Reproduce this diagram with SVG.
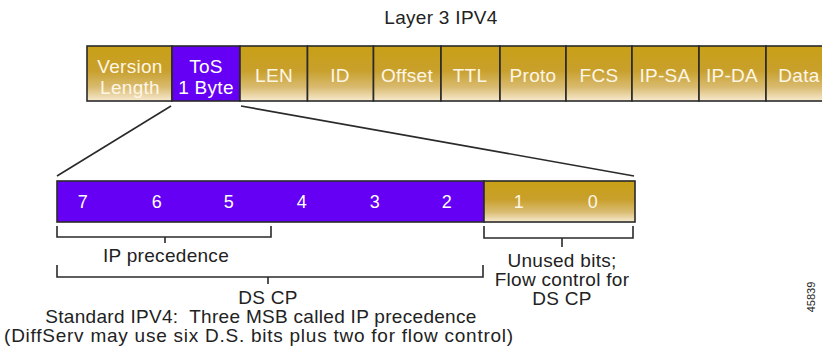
<svg xmlns="http://www.w3.org/2000/svg" width="822" height="352" viewBox="0 0 822 352">
<defs>
<linearGradient id="gold" x1="0" y1="0" x2="0" y2="1">
<stop offset="0" stop-color="#c9a015"/>
<stop offset="0.45" stop-color="#c8a02c"/>
<stop offset="0.75" stop-color="#d9bb70"/>
<stop offset="1" stop-color="#f7eacf"/>
</linearGradient>
<style>
text{font-family:"Liberation Sans",Arial,sans-serif;font-size:19px;text-anchor:middle;letter-spacing:0.3px}
.cell{stroke:#2a2a2a;stroke-width:1.6}
.g{fill:url(#gold)}
.p{fill:#6600f5}
.ct{fill:#fff6e6}
.pt{fill:#ffffff}
.num{font-size:18px}
.lbl{fill:#222}
.ln{fill:none;stroke:#2a2a2a;stroke-width:1.6}
</style>
</defs>
<rect width="822" height="352" fill="#ffffff"/>
<text class="lbl" x="441" y="24">Layer 3 IPV4</text>
<g id="ipv4-header">
<g id="cell-version"><rect class="cell g" x="87" y="46" width="85" height="55"/><text class="ct" x="130" y="73">Version</text><text class="ct" x="130" y="94">Length</text></g>
<g id="cell-tos"><rect class="cell p" x="172" y="46" width="68" height="55"/><text class="pt" x="206" y="73">ToS</text><text class="pt" x="206" y="94">1 Byte</text></g>
<g id="cell-len"><rect class="cell g" x="240" y="46" width="67.5" height="55"/><text class="ct" x="274" y="82">LEN</text></g>
<g id="cell-id"><rect class="cell g" x="307.5" y="46" width="66" height="55"/><text class="ct" x="340" y="82">ID</text></g>
<g id="cell-offset"><rect class="cell g" x="373.5" y="46" width="67.5" height="55"/><text class="ct" x="407" y="82">Offset</text></g>
<g id="cell-ttl"><rect class="cell g" x="441" y="46" width="59" height="55"/><text class="ct" x="470" y="82">TTL</text></g>
<g id="cell-proto"><rect class="cell g" x="500" y="46" width="66" height="55"/><text class="ct" x="533" y="82">Proto</text></g>
<g id="cell-fcs"><rect class="cell g" x="566" y="46" width="66" height="55"/><text class="ct" x="599" y="82">FCS</text></g>
<g id="cell-ipsa"><rect class="cell g" x="632" y="46" width="67" height="55"/><text class="ct" x="665" y="82">IP-SA</text></g>
<g id="cell-ipda"><rect class="cell g" x="699" y="46" width="67" height="55"/><text class="ct" x="732" y="82">IP-DA</text></g>
<g id="cell-data"><rect class="cell g" x="766" y="46" width="60" height="55"/><text class="ct" x="799" y="82">Data</text></g>
</g>
<g id="tos-byte">
<g id="ds-bits"><rect class="cell p" x="57" y="181" width="427" height="41"/>
<text class="pt num" x="83" y="208">7</text><text class="pt num" x="157" y="208">6</text><text class="pt num" x="229" y="208">5</text><text class="pt num" x="302" y="208">4</text><text class="pt num" x="375" y="208">3</text><text class="pt num" x="447" y="208">2</text></g>
<g id="flow-bits"><rect class="cell g" x="484" y="181" width="151" height="41"/>
<text class="ct num" x="519" y="208">1</text><text class="ct num" x="593" y="208">0</text></g>
</g>
<g id="connectors">
<path class="ln" d="M171 106 L57 176"/>
<path class="ln" d="M241 106 L634 176"/>
<path class="ln" d="M57 226 V237 H271 V226 M165 237 V243"/>
<path class="ln" d="M57 265 V277 H483 V265 M268 277 V284"/>
<path class="ln" d="M484 226 V238 H633 V226 M562 238 V247"/>
</g>
<g id="labels">
<text class="lbl" x="166" y="262">IP precedence</text>
<text class="lbl" x="268" y="304">DS CP</text>
<text class="lbl" x="562" y="267">Unused bits;</text>
<text class="lbl" x="562" y="286">Flow control for</text>
<text class="lbl" x="562" y="305">DS CP</text>
<text class="lbl" x="261" y="323" xml:space="preserve">Standard IPV4:  Three MSB called IP precedence</text>
<text class="lbl" x="259" y="342" style="letter-spacing:0.75px">(DiffServ may use six D.S. bits plus two for flow control)</text>
<text class="lbl" style="font-size:11px;letter-spacing:0" transform="translate(815 297) rotate(-90)">45839</text>
</g>
</svg>
